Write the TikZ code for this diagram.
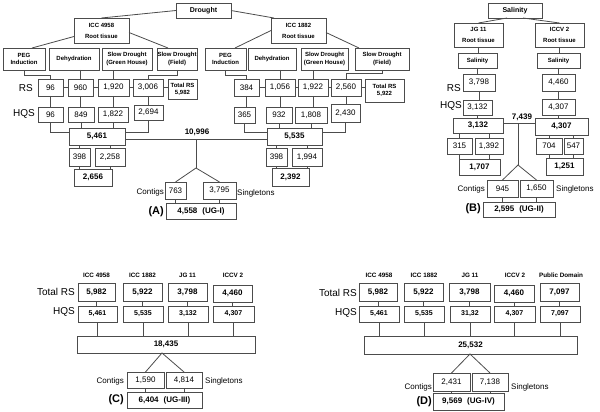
\documentclass[tikz,border=0pt]{standalone}
\usepackage{fontspec}
\setmainfont{Liberation Sans}
\usetikzlibrary{calc}
\def\BxB#1#2#3,#4,#5,#6\relax#7{%
  \pgfmathsetmacro\bxcx{(#3+#5)/2}%
  \pgfmathsetmacro\bxcy{(#4+#6)/2}%
  \pgfmathsetmacro\bxw{#5-#3}%
  \pgfmathsetmacro\bxh{#6-#4}%
  \node[bx,#1,minimum width=\bxw pt,minimum height=\bxh pt] (#2) at (\bxcx,\bxcy) {#7};}
\newcommand\Bx[5][]{\BxB{#1}{#2}#3,#4\relax{#5}}
\tikzset{
  bx/.style={draw=black!70, line width=0.8pt, inner sep=0pt, outer sep=0pt, align=center, font=\fontsize{8}{9}\selectfont},
  hd/.style={font=\bfseries\fontsize{6}{7.3}\selectfont},
  rt/.style={font=\bfseries\fontsize{6}{11}\selectfont},
  top/.style={font=\bfseries\fontsize{7}{8}\selectfont},
  bn/.style={font=\bfseries\fontsize{8}{9}\selectfont},
  hq/.style={font=\bfseries\fontsize{7}{8}\selectfont},
  ln/.style={draw=black!70, line width=0.8pt},
  lab/.style={inner sep=0pt, font=\fontsize{10}{11}\selectfont},
  sm/.style={inner sep=0pt, font=\fontsize{8}{9}\selectfont},
  pl/.style={inner sep=0pt, font=\bfseries\fontsize{11}{12}\selectfont},
  hdr/.style={inner sep=0pt, font=\bfseries\fontsize{6.3}{7}\selectfont},
}
\begin{document}
\begin{tikzpicture}[x=1pt,y=-1pt]
\useasboundingbox (0,0) rectangle (600,412);
% ================= Panel A =================
\Bx[top]{dr}{176,3}{231,18}{Drought}
\Bx[rt]{i4958}{74,18}{129,43}{ICC 4958\\Root tissue}
\Bx[rt]{i1882}{271,18}{326,43}{ICC 1882\\Root tissue}
\Bx[hd]{a1}{3,48}{45,70}{PEG\\Induction}
\Bx[hd]{a2}{49,48}{99,70}{Dehydration}
\Bx[hd]{a3}{102,48}{152,70}{Slow Drought\\(Green House)}
\Bx[hd]{a4}{157,48}{197,70}{Slow Drought\\(Field)}
\Bx[hd]{b1}{205,48}{246,70}{PEG\\Induction}
\Bx[hd]{b2}{248,48}{296,70}{Dehydration}
\Bx[hd]{b3}{301,48}{348,70}{Slow Drought\\(Green House)}
\Bx[hd]{b4}{355,48}{409,70}{Slow Drought\\(Field)}
% RS row
\Bx{ar1}{38,79}{63,96}{96}
\Bx{ar2}{68,79}{93,96}{960}
\Bx{ar3}{98,79}{129,96}{1,920}
\Bx{ar4}{133,79}{163,96}{3,006}
\Bx[hd]{aT}{168,79}{197,99}{Total RS\\5,982}
\Bx{br1}{234,79}{259,96}{384}
\Bx{br2}{265,79}{295,96}{1,056}
\Bx{br3}{298,79}{328,96}{1,922}
\Bx{br4}{331,79}{361,96}{2,560}
\Bx[hd]{bT}{365,79}{404,102}{Total RS\\5,922}
% HQS row
\Bx{ah1}{38,107}{63,122}{96}
\Bx{ah2}{68,107}{94,122}{849}
\Bx{ah3}{98,107}{128,122}{1,822}
\Bx{ah4}{134,105}{163,120}{2,694}
\Bx{bh1}{234,107}{255,123}{365}
\Bx{bh2}{266,107}{292,123}{932}
\Bx{bh3}{295,107}{327,123}{1,808}
\Bx{bh4}{331,104}{360,122}{2,430}
% sums
\Bx[bn]{aS}{69,128}{125,145}{5,461}
\Bx[bn]{bS}{267,128}{322,145}{5,535}
\Bx{a398}{69,148}{90,166}{398}
\Bx{a2258}{95,148}{125,166}{2,258}
\Bx[bn]{a2656}{74,169}{112,186}{2,656}
\Bx{b398}{266,148}{287,166}{398}
\Bx{b1994}{292,148}{322,166}{1,994}
\Bx[bn]{b2392}{272,168}{309,186}{2,392}
\Bx{c763}{165,182}{186,199}{763}
\Bx{c3795}{203,182}{236,199}{3,795}
\Bx[bn]{fA}{166,203}{236,219}{4,558\hspace{5pt}(UG-I)}
\node[lab,anchor=east] (rsA) at (33,88) {RS};
\node[lab,anchor=east] (hqA) at (35,114) {HQS};
\node[bn,inner sep=0pt] (tA) at (197,132) {10,996};
\node[sm,anchor=east] (cgA) at (164,192) {Contigs};
\node[sm,anchor=west] (sgA) at (237,193) {Singletons};
\node[pl,anchor=east] (pA) at (164,212) {(A)};
% connectors A
\draw[ln] (dr.west) -- (i4958.north);
\draw[ln] (dr.east) -- ([xshift=3pt]i1882.north west);
\draw[ln] ([yshift=-6pt]i4958.west) -- ([xshift=-13pt]a1.north east);
\draw[ln] ([yshift=-2pt]i4958.east) -- ([xshift=11pt]a4.north west);
\draw[ln] (i1882.west) -- ([xshift=-11pt]b1.north east);
\draw[ln] ([yshift=-2pt]i1882.east) -- ([xshift=4pt]b4.north west);
\draw[ln] (a1.south) -- ++(0,5) -| (ar1.north);
\draw[ln] (ar2.north |- a2.south) -- (ar2.north);
\draw[ln] (ar3.north |- a3.south) -- (ar3.north);
\draw[ln] (a4.south) -- ++(0,5) -| (ar4.north);
\draw[ln] (b1.south) -- ++(0,5) -| (br1.north);
\draw[ln] (br2.north |- b2.south) -- (br2.north);
\draw[ln] (br3.north |- b3.south) -- (br3.north);
\draw[ln] (b4.south) -- ++(0,3) -| (br4.north);
\draw[ln] (ar1.east) -- (ar2.west);
\draw[ln] (ar2.east) -- (ar3.west);
\draw[ln] (ar3.east) -- (ar4.west);
\draw[ln] (ar4.east) -- (ar4.east -| aT.west);
\draw[ln] (br1.east) -- (br2.west);
\draw[ln] (br2.east) -- (br3.west);
\draw[ln] (br3.east) -- (br4.west);
\draw[ln] (br4.east) -- (br4.east -| bT.west);
\foreach \r/\h in {ar1/ah1,ar2/ah2,ar3/ah3,ar4/ah4,br1/bh1,br2/bh2,br3/bh3,br4/bh4}
  \draw[ln] (\r.south) -- (\r.south |- \h.north);
\draw[ln] (ah1.south) |- ([yshift=4.5pt]aS.west);
\draw[ln] (ah2.south) -- (ah2.south |- aS.north);
\draw[ln] (ah3.south) -- (ah3.south |- aS.north);
\draw[ln] (ah4.south) |- ([yshift=4.5pt]aS.east);
\draw[ln] (bh1.south) |- ([yshift=4.5pt]bS.west);
\draw[ln] (bh2.south) -- (bh2.south |- bS.north);
\draw[ln] (bh3.south) -- (bh3.south |- bS.north);
\draw[ln] (bh4.south) |- ([yshift=4.5pt]bS.east);
\draw[ln] (a398.north |- aS.south) -- (a398.north);
\draw[ln] (a2258.north |- aS.south) -- (a2258.north);
\draw[ln] (a398.south) -- (a398.south |- a2656.north);
\draw[ln] (a2258.south) -- (a2258.south |- a2656.north);
\draw[ln] (b398.north |- bS.south) -- (b398.north);
\draw[ln] (b1994.north |- bS.south) -- (b1994.north);
\draw[ln] (b398.south) -- (b398.south |- b2392.north);
\draw[ln] (b1994.south) -- (b1994.south |- b2392.north);
\coordinate (jA) at (196,139);
\coordinate (apA) at (196,168);
\draw[ln] ([yshift=-2.5pt]aS.east) -- ([yshift=-2.5pt]bS.west);
\draw[ln] (jA) -- (apA);
\draw[ln] (c763.north) -- (apA) -- (c3795.north);
\draw[ln] (c763.south) -- (c763.south |- fA.north);
\draw[ln] (c3795.south) -- (c3795.south |- fA.north);
% ================= Panel B =================
\Bx[top]{sal}{488,3}{542,18}{Salinity}
\Bx[rt]{jg}{454,23}{503,47}{JG 11\\Root tissue}
\Bx[rt]{iccv}{535,23}{584,47}{ICCV 2\\Root tissue}
\Bx[hd]{s1}{458,53}{497,68}{Salinity}
\Bx[hd]{s2}{537,53}{580,68}{Salinity}
\Bx{r3798}{463,74}{495,91}{3,798}
\Bx{r4460}{542,74}{575,91}{4,460}
\Bx{h3132}{463,100}{492,115}{3,132}
\Bx{h4307}{542,99}{575,115}{4,307}
\Bx[bn]{bb3132}{453,118}{503,133}{3,132}
\Bx[bn]{bb4307}{535,118}{588,135}{4,307}
\Bx{b315}{447,138}{472,154}{315}
\Bx{b1392}{475,138}{503,154}{1,392}
\Bx{b704}{536,138}{562,154}{704}
\Bx{b547}{564,138}{583,154}{547}
\Bx[bn]{b1707}{459,159}{500,175}{1,707}
\Bx[bn]{b1251}{546,158}{583,175}{1,251}
\Bx{c945}{487,180}{518,197}{945}
\Bx{c1650}{520,180}{553,197}{1,650}
\Bx[bn]{fB}{483,202}{555,217}{2,595\hspace{5pt}(UG-II)}
\node[lab,anchor=east] (rsB) at (461,88) {RS};
\node[lab,anchor=east] (hqB) at (462,106) {HQS};
\node[bn,inner sep=0pt] (tB) at (522,117) {7,439};
\node[sm,anchor=east] (cgB) at (485,189) {Contigs};
\node[sm,anchor=west] (sgB) at (556,189) {Singletons};
\node[pl,anchor=east] (pB) at (481,209) {(B)};
\draw[ln] ([xshift=-8pt]sal.south) -- (jg.north);
\draw[ln] ([xshift=8pt]sal.south) -- (iccv.north);
\foreach \u/\v in {jg/s1,s1/r3798,r3798/h3132,h3132/bb3132,iccv/s2,s2/r4460,r4460/h4307,h4307/bb4307}
  \draw[ln] (\u.south) -- (\u.south |- \v.north);
\draw[ln] (b315.north |- bb3132.south) -- (b315.north);
\draw[ln] (b1392.north |- bb3132.south) -- (b1392.north);
\draw[ln] (b315.south) -- (b315.south |- b1707.north);
\draw[ln] (b1392.south) -- (b1392.south |- b1707.north);
\draw[ln] (b704.north |- bb4307.south) -- (b704.north);
\draw[ln] (b547.north |- bb4307.south) -- (b547.north);
\draw[ln] (b704.south) -- (b704.south |- b1251.north);
\draw[ln] (b547.south) -- (b547.south |- b1251.north);
\coordinate (jB) at (518,123);
\coordinate (apB) at (518,165);
\draw[ln] ([yshift=2.5pt]bb3132.east) -- ([yshift=2.5pt]bb3132.east -| bb4307.west);
\draw[ln] (jB) -- (apB);
\draw[ln] (c945.north) -- (apB) -- (c1650.north);
\draw[ln] (c945.south) -- (c945.south |- fB.north);
\draw[ln] (c1650.south) -- (c1650.south |- fB.north);
% ================= Panel C =================
\node[hdr] (hC1) at (96.5,275) {ICC 4958};
\node[hdr] (hC2) at (142.5,275) {ICC 1882};
\node[hdr] (hC3) at (187.5,275) {JG 11};
\node[hdr] (hC4) at (233,275) {ICCV 2};
\Bx[bn]{cT1}{78,283}{115,301}{5,982}
\Bx[bn]{cT2}{123,283}{162,301}{5,922}
\Bx[bn]{cT3}{168,283}{207,301}{3,798}
\Bx[bn]{cT4}{213,285}{252,302}{4,460}
\Bx[hq]{cH1}{78,306}{117,322}{5,461}
\Bx[hq]{cH2}{123,306}{163,322}{5,535}
\Bx[hq]{cH3}{168,306}{208,322}{3,132}
\Bx[hq]{cH4}{213,306}{254,322}{4,307}
\Bx[bn]{cBig}{77,336}{255,353}{18,435}
\Bx{c1590}{127,372}{164,388}{1,590}
\Bx{c4814}{166,372}{202,388}{4,814}
\Bx[bn]{fC}{127,392}{202,408}{6,404\hspace{5pt}(UG-III)}
\node[lab,anchor=east] (trC) at (75,292) {Total RS};
\node[lab,anchor=east] (hqC) at (75,312) {HQS};
\node[sm,anchor=east] (cgC) at (124,381) {Contigs};
\node[sm,anchor=west] (sgC) at (205,381) {Singletons};
\node[pl,anchor=east] (pC) at (124,400) {(C)};
\foreach \i in {1,2,3,4} {
  \draw[ln] (cT\i.south) -- (cT\i.south |- cH\i.north);
  \draw[ln] (cH\i.south) -- (cH\i.south |- cBig.north);
}
\coordinate (apC) at (162,353);
\draw[ln] (c1590.north) -- (apC) -- (c4814.north);
\draw[ln] (c1590.south) -- (c1590.south |- fC.north);
\draw[ln] (c4814.south) -- (c4814.south |- fC.north);
% ================= Panel D =================
\node[hdr] (hD1) at (379,275) {ICC 4958};
\node[hdr] (hD2) at (424,275) {ICC 1882};
\node[hdr] (hD3) at (470,275) {JG 11};
\node[hdr] (hD4) at (515,275) {ICCV 2};
\node[hdr] (hD5) at (561,275) {Public Domain};
\Bx[bn]{dT1}{359,283}{397,301}{5,982}
\Bx[bn]{dT2}{404,283}{443,301}{5,922}
\Bx[bn]{dT3}{449,283}{490,301}{3,798}
\Bx[bn]{dT4}{494,285}{534,302}{4,460}
\Bx[bn]{dT5}{540,283}{579,301}{7,097}
\Bx[hq]{dH1}{359,306}{399,322}{5,461}
\Bx[hq]{dH2}{404,306}{444,322}{5,535}
\Bx[hq]{dH3}{450,306}{490,322}{31,32}
\Bx[hq]{dH4}{494,306}{535,322}{4,307}
\Bx[hq]{dH5}{540,306}{580,322}{7,097}
\Bx[bn]{dBig}{364,336}{577,354}{25,532}
\Bx{d2431}{433,373}{470,391}{2,431}
\Bx{d7138}{472,373}{508,391}{7,138}
\Bx[bn]{fD}{433,393}{504,410}{9,569\hspace{5pt}(UG-IV)}
\node[lab,anchor=east] (trD) at (357,293) {Total RS};
\node[lab,anchor=east] (hqD) at (357,313) {HQS};
\node[sm,anchor=east] (cgD) at (432,387) {Contigs};
\node[sm,anchor=west] (sgD) at (511,387) {Singletons};
\node[pl,anchor=east] (pD) at (432,402) {(D)};
\foreach \i in {1,2,3,4,5} {
  \draw[ln] (dT\i.south) -- (dT\i.south |- dH\i.north);
  \draw[ln] (dH\i.south) -- (dH\i.south |- dBig.north);
}
\coordinate (apD) at (470,354);
\draw[ln] (d2431.north) -- (apD) -- (d7138.north);
\draw[ln] (d2431.south) -- (d2431.south |- fD.north);
\draw[ln] (d7138.south) -- (d7138.south |- fD.north);
\end{tikzpicture}
\end{document}
